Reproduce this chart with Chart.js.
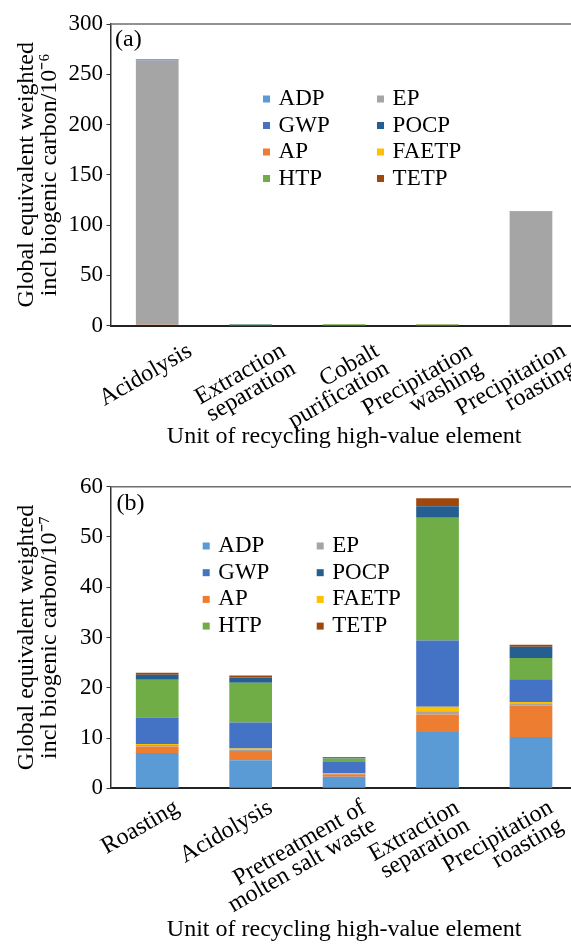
<!DOCTYPE html>
<html>
<head>
<meta charset="utf-8">
<script src="https://cdn.jsdelivr.net/npm/chart.js@4.4.0/dist/chart.umd.min.js"></script>
<style>
    html, body { margin: 0; padding: 0; background: #fff; overflow: hidden; }
    #wrap { position: relative; width: 571px; height: 944px; overflow: hidden; }
    canvas { position: absolute; left: 0; }
    #chartA { top: 0; }
    #chartB { top: 460px; }
</style>
</head>
<body>
<div id="wrap">
    <canvas id="chartA" width="600" height="460"></canvas>
    <canvas id="chartB" width="600" height="484"></canvas>
</div>
<script>
// impact categories, in stacking order (bottom -> top)
const impacts = ['ADP', 'AP', 'EP', 'FAETP', 'GWP', 'HTP', 'POCP', 'TETP'];
const impactColors = ['#5B9BD5', '#ED7D31', '#A5A5A5', '#FFC000', '#4472C4', '#70AD47', '#255E91', '#9E480E'];
// legend is 2 columns, read row by row
const legendOrder = ['ADP', 'EP', 'GWP', 'POCP', 'AP', 'FAETP', 'HTP', 'TETP'];

// (a) values in 10^-6
const unitsA = ['Acidolysis', ['Extraction', 'separation'], ['Cobalt', 'purification'], ['Precipitation', 'washing'], ['Precipitation', 'roasting']];
const adpA   = [0.4, 0.1, 0.05, 0.05, 0.3];
const apA    = [0.3, 0.05, 0.03, 0.03, 0.2];
const epA    = [263.0, 0.05, 0.05, 0.05, 112.6];
const faetpA = [0.1, 0.02, 0.02, 0.02, 0.05];
const gwpA   = [0.5, 0.3, 0.1, 0.1, 0.3];
const htpA   = [0.6, 0.2, 1.0, 0.8, 0.4];
const pocpA  = [0.2, 0.5, 0.05, 0.05, 0.15];
const tetpA  = [0.1, 0.1, 0.02, 0.02, 0.05];
const yTicksA = { max: 300, step: 50 };

// (b) values in 10^-7
const unitsB = ['Roasting', 'Acidolysis', ['Pretreatment of', 'molten salt waste'], ['Extraction', 'separation'], ['Precipitation', 'roasting']];
const adpB   = [7.0, 5.6, 2.3, 11.2, 10.2];
const apB    = [1.3, 1.8, 0.5, 3.5, 6.2];
const epB    = [0.3, 0.2, 0.13, 0.65, 0.5];
const faetpB = [0.2, 0.3, 0.07, 0.85, 0.25];
const gwpB   = [5.3, 5.2, 2.25, 13.2, 4.55];
const htpB   = [7.5, 7.9, 0.66, 24.4, 4.2];
const pocpB  = [1.0, 1.05, 0.27, 2.3, 2.25];
const tetpB  = [0.4, 0.4, 0.06, 1.6, 0.4];
const yTicksB = { max: 60, step: 10 };

const serif = '"Liberation Serif", "Times New Roman", serif';
Chart.defaults.font.family = serif;
Chart.defaults.color = '#000';

// frame top line, panel tag and the in-plot legend
const panelPlugin = {
    id: 'panel',
    afterDraw(chart, args, opts) {
        const { ctx, chartArea: a } = chart;
        ctx.save();
        ctx.strokeStyle = '#6e6e6e';
        ctx.lineWidth = 1.5;
        ctx.beginPath();
        ctx.moveTo(a.left, a.top);
        ctx.lineTo(a.right, a.top);
        ctx.stroke();

        ctx.fillStyle = '#000';
        ctx.textBaseline = 'middle';
        ctx.textAlign = 'left';
        ctx.font = '24px ' + serif;
        ctx.fillText(opts.tag, opts.tagX, opts.tagY);

        ctx.font = '23px ' + serif;
        legendOrder.forEach((name, i) => {
            const ds = chart.data.datasets.find(d => d.label === name);
            const x = opts.legendX[i % 2];
            const y = opts.legendY + Math.floor(i / 2) * opts.legendDy;
            ctx.fillStyle = ds.backgroundColor;
            ctx.fillRect(x, y - 3.5, 7, 7);
            ctx.fillStyle = '#000';
            ctx.fillText(name, x + 15.6, y);
        });
        ctx.restore();
    }
};

function makeChart(id, labels, series, yTicks, yTitle, cfg) {
    const datasets = impacts.map((name, i) => ({
        label: name,
        data: series[i],
        backgroundColor: impactColors[i],
        borderWidth: 0,
        barPercentage: 0.457,
        categoryPercentage: 1
    }));

    return new Chart(document.getElementById(id), {
        type: 'bar',
        data: { labels, datasets },
        plugins: [panelPlugin],
        options: {
            responsive: false,
            animation: false,
            layout: { padding: { left: 15, top: cfg.padTop, right: 22.3, bottom: cfg.padBottom } },
            plugins: {
                legend: { display: false },
                tooltip: { enabled: false },
                panel: cfg
            },
            scales: {
                x: {
                    stacked: true,
                    grid: { display: false },
                    border: { color: '#222', width: 2 },
                    ticks: {
                        autoSkip: false,
                        minRotation: 30,
                        maxRotation: 30,
                        labelOffset: cfg.labelOffset,
                        padding: cfg.labelPad,
                        font: { size: 24, lineHeight: 0.85 },
                        color: '#000'
                    },
                    title: {
                        display: true,
                        text: 'Unit of recycling high-value element',
                        font: { size: 24, lineHeight: 1 },
                        padding: 0,
                        color: '#000'
                    },
                    afterFit: s => { s.height = cfg.xHeight; s.paddingLeft = 0; s.paddingRight = 0; }
                },
                y: {
                    stacked: true,
                    min: 0,
                    max: yTicks.max,
                    grid: { drawOnChartArea: false, drawTicks: true, tickLength: 4, color: '#333' },
                    border: { color: '#333', width: 1.5 },
                    ticks: { stepSize: yTicks.step, padding: 3.5, font: { size: 23 }, color: '#000' },
                    title: {
                        display: true,
                        text: yTitle,
                        font: { size: 24, lineHeight: 0.958 },
                        padding: 0,
                        color: '#000'
                    },
                    afterFit: s => { s.width = 95.5; }
                }
            }
        }
    });
}

makeChart('chartA', unitsA, [adpA, apA, epA, faetpA, gwpA, htpA, pocpA, tetpA], yTicksA,
    ['Global equivalent weighted', 'incl biogenic carbon/10\u207B\u2076'],
    { padTop: 24, padBottom: 11, xHeight: 123.5, labelOffset: 33, labelPad: 7,
      tag: '(a)', tagX: 115, tagY: 40, legendX: [263, 377], legendY: 99, legendDy: 26.5 });

makeChart('chartB', unitsB, [adpB, apB, epB, faetpB, gwpB, htpB, pocpB, tetpB], yTicksB,
    ['Global equivalent weighted', 'incl biogenic carbon/10\u207B\u2077'],
    { padTop: 26.7, padBottom: 2, xHeight: 153.7, labelOffset: 20, labelPad: 1,
      tag: '(b)', tagX: 116.5, tagY: 43.3, legendX: [202.7, 316.7], legendY: 86, legendDy: 26.7 });
</script>
</body>
</html>
